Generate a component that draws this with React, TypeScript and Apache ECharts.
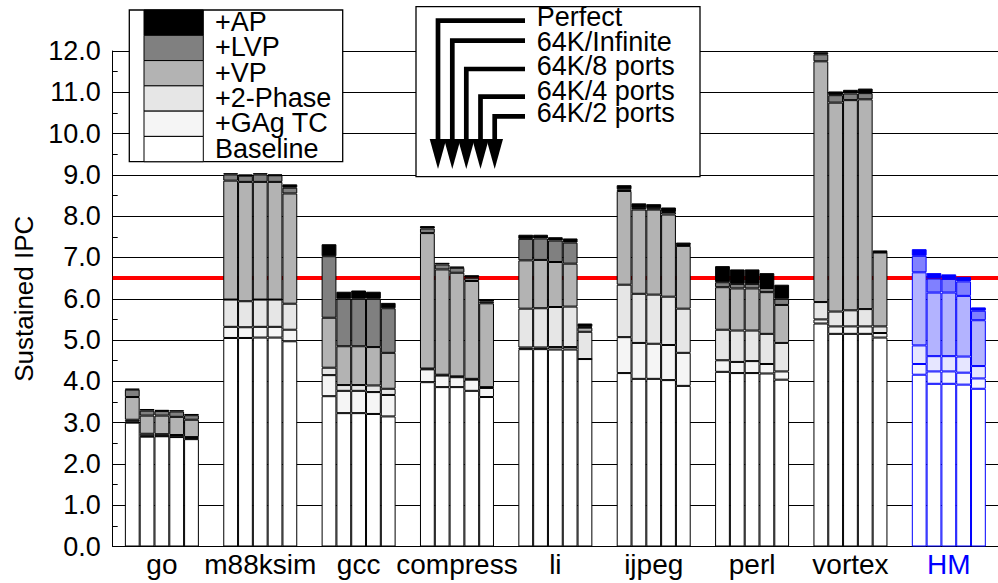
import React, { useEffect, useRef } from "react";
import * as echarts from "echarts";

const categories = ["go", "m88ksim", "gcc", "compress", "li", "ijpeg", "perl", "vortex", "HM"];
const configs = ["Perfect", "64K/Infinite", "64K/8 ports", "64K/4 ports", "64K/2 ports"];
const segments = ["Baseline", "+GAg TC", "+2-Phase", "+VP", "+LVP", "+AP"];
const yTicks = [0, 1, 2, 3, 4, 5, 6, 7, 8, 9, 10, 11, 12];
const targetIPC = 6.5;

// rows: categories, columns: configs (Perfect, 64K/Infinite, 64K/8, 64K/4, 64K/2)
const baseline = [
  [3.0, 2.66, 2.67, 2.65, 2.6],
  [5.05, 5.05, 5.06, 5.06, 4.97],
  [3.64, 3.23, 3.23, 3.21, 3.15],
  [3.98, 3.86, 3.86, 3.77, 3.62],
  [4.78, 4.78, 4.77, 4.77, 4.54],
  [4.2, 4.06, 4.06, 4.03, 3.89],
  [4.23, 4.2, 4.2, 4.19, 4.04],
  [5.4, 5.15, 5.15, 5.15, 5.06],
  [4.16, 3.94, 3.94, 3.92, 3.82],
];
const gagTC = [
  [0.03, 0.02, 0.01, 0.01, 0.02],
  [0.27, 0.26, 0.26, 0.26, 0.28],
  [0.51, 0.54, 0.54, 0.53, 0.52],
  [0.31, 0.28, 0.24, 0.27, 0.22],
  [0.04, 0.04, 0.06, 0.06, 0.0],
  [0.87, 0.87, 0.85, 0.85, 0.8],
  [0.28, 0.27, 0.29, 0.23, 0.2],
  [0.1, 0.18, 0.18, 0.18, 0.11],
  [0.26, 0.3, 0.3, 0.29, 0.25],
];
const twoPhase = [
  [0.04, 0.05, 0.04, 0.04, 0.03],
  [0.66, 0.63, 0.66, 0.66, 0.63],
  [0.18, 0.14, 0.14, 0.16, 0.15],
  [0.02, 0.02, 0.02, 0.02, 0.02],
  [0.94, 0.95, 0.97, 0.98, 0.66],
  [1.27, 1.19, 1.19, 1.17, 1.07],
  [0.74, 0.76, 0.74, 0.73, 0.69],
  [0.42, 0.36, 0.39, 0.42, 0.16],
  [0.45, 0.37, 0.37, 0.39, 0.3],
];
const vp = [
  [0.55, 0.44, 0.45, 0.44, 0.42],
  [2.88, 2.89, 2.85, 2.85, 2.67],
  [1.21, 0.94, 0.94, 0.93, 0.87],
  [3.28, 2.55, 2.51, 2.37, 2.03],
  [1.17, 1.17, 1.09, 1.04, 0.1],
  [2.27, 2.04, 2.06, 1.99, 1.52],
  [1.03, 1.02, 1.02, 1.01, 0.92],
  [5.83, 5.06, 5.09, 5.08, 1.79],
  [1.77, 1.54, 1.54, 1.47, 1.11],
];
const lvp = [
  [0.18, 0.12, 0.11, 0.13, 0.11],
  [0.15, 0.15, 0.18, 0.16, 0.14],
  [1.49, 1.15, 1.15, 1.17, 1.08],
  [0.11, 0.12, 0.12, 0.08, 0.04],
  [0.52, 0.52, 0.52, 0.51, 0.02],
  [0.04, 0.04, 0.03, 0.06, 0.02],
  [0.12, 0.11, 0.11, 0.1, 0.15],
  [0.17, 0.18, 0.16, 0.15, 0.01],
  [0.4, 0.34, 0.33, 0.35, 0.23],
];
const ap = [
  [0.02, 0.04, 0.03, 0.03, 0.03],
  [0.03, 0.03, 0.03, 0.02, 0.08],
  [0.29, 0.17, 0.2, 0.17, 0.13],
  [0.06, 0.04, 0.03, 0.06, 0.06],
  [0.1, 0.09, 0.08, 0.1, 0.08],
  [0.1, 0.11, 0.1, 0.11, 0.06],
  [0.39, 0.35, 0.35, 0.36, 0.34],
  [0.05, 0.09, 0.09, 0.11, 0.04],
  [0.16, 0.13, 0.11, 0.11, 0.08],
];

const grayColors = ["#ffffff", "#f5f5f5", "#e6e6e6", "#b3b3b3", "#808080", "#000000"];
const blueColors = ["#ffffff", "#f5f5ff", "#e6e6ff", "#b3b3ff", "#8080ff", "#0000ff"];
const FONT = '"Liberation Sans", Arial, Helvetica, sans-serif';

export default function App() {
  const ref = useRef<HTMLDivElement>(null);
  useEffect(() => {
    if (!ref.current) return;
    const chart = echarts.init(ref.current, null, { renderer: "svg" });
    const segData = [baseline, gagTC, twoPhase, vp, lvp, ap];
    const series: any[] = [];
    // red reference line, drawn beneath the bars
    series.push({
      type: "line",
      xAxisIndex: 1,
      z: 1,
      silent: true,
      symbol: "none",
      lineStyle: { color: "#ff0000", width: 4, type: "solid" },
      data: [
        [0, targetIPC],
        [1, targetIPC],
      ],
    });
    configs.forEach((cfg, c) => {
      segments.forEach((seg, s) => {
        series.push({
          type: "bar",
          name: seg,
          stack: "cfg" + c,
          barWidth: 14.8,
          barGap: "0%",
          z: 3,
          itemStyle: { color: grayColors[s], borderColor: "#000", borderWidth: 1 },
          data: categories.map((cat, k) =>
            cat === "HM"
              ? { value: segData[s][k][c], itemStyle: { color: blueColors[s], borderColor: "#0000ff", borderWidth: 1 } }
              : segData[s][k][c]
          ),
        });
      });
    });

    const graphic: any[] = [];
    // legend 1
    graphic.push({
      type: "rect",
      z: 100,
      shape: { x: 129.3, y: 10, width: 213.4, height: 151.7 },
      style: { fill: "#fff", stroke: "#000", lineWidth: 1.3 },
    });
    const rowH = 151.7 / 6;
    for (let i = 0; i < 6; i++) {
      const s = 5 - i;
      graphic.push({
        type: "rect",
        z: 101,
        shape: { x: 144, y: 10 + rowH * i, width: 59.3, height: rowH },
        style: { fill: grayColors[s], stroke: "#000", lineWidth: 1 },
      });
      graphic.push({
        type: "text",
        z: 102,
        x: 215,
        y: 10 + rowH * i + rowH / 2 - 0.5,
        style: { text: segments[s], fontSize: 27, fontFamily: FONT, fill: "#000", verticalAlign: "middle", align: "left" },
      });
    }
    // legend 2
    graphic.push({
      type: "rect",
      z: 100,
      shape: { x: 416, y: 6.7, width: 284, height: 170 },
      style: { fill: "#fff", stroke: "#000", lineWidth: 1.3 },
    });
    const vx = [438, 452.3, 466.3, 480.5, 494.7];
    const hy = [20.7, 40.7, 69, 96.7, 116.3];
    const ty = [17, 42, 66.3, 91, 113];
    for (let i = 0; i < 5; i++) {
      graphic.push({
        type: "polyline",
        z: 101,
        shape: { points: [[525, hy[i]], [vx[i], hy[i]], [vx[i], 142]] },
        style: { stroke: "#000", lineWidth: 4.7, fill: "none", lineJoin: "miter" },
      });
      graphic.push({
        type: "polygon",
        z: 102,
        shape: { points: [[vx[i] - 8.3, 139], [vx[i] + 8.3, 139], [vx[i], 169]] },
        style: { fill: "#000" },
      });
      graphic.push({
        type: "text",
        z: 102,
        x: 536.7,
        y: ty[i],
        style: { text: configs[i], fontSize: 27, fontFamily: FONT, fill: "#000", verticalAlign: "middle", align: "left" },
      });
    }

    chart.setOption({
      animation: false,
      backgroundColor: "#ffffff",
      grid: { left: 112.7, top: 51, width: 891, height: 495.5 },
      xAxis: [
        {
          type: "category",
          data: categories,
          axisTick: { show: false },
          axisLine: { show: true, lineStyle: { color: "#000", width: 1 } },
          axisLabel: {
            interval: 0,
            margin: 4,
            fontSize: 28,
            fontFamily: FONT,
            color: (v: string) => (v === "HM" ? "#0000ff" : "#000000"),
          },
        },
        { type: "value", min: 0, max: 1, show: false },
      ],
      yAxis: {
        type: "value",
        min: yTicks[0],
        max: yTicks[yTicks.length - 1],
        interval: 1,
        axisLine: { show: true, lineStyle: { color: "#000", width: 1 } },
        axisTick: { show: false, inside: true },
        minorTick: { show: true, splitNumber: 2, length: 5, lineStyle: { color: "#000", width: 1 } },
        splitLine: { show: true, lineStyle: { color: "#000", width: 1 } },
        axisLabel: {
          fontSize: 27,
          fontFamily: FONT,
          color: "#000",
          margin: 12,
          formatter: (v: number) => v.toFixed(1),
        },
        name: "Sustained IPC",
        nameLocation: "middle",
        nameGap: 75,
        nameTextStyle: { fontSize: 26, fontFamily: FONT, color: "#000" },
      },
      graphic,
      series,
    });
    return () => chart.dispose();
  }, []);
  return <div ref={ref} style={{ position: "absolute", left: 0, top: 0, width: 998, height: 583 }} />;
}
